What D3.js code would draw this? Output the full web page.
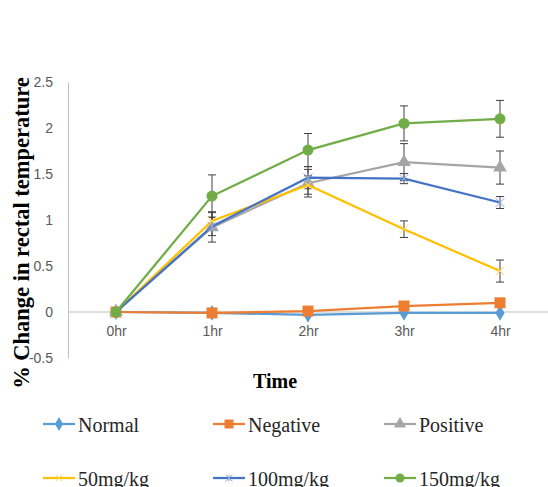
<!DOCTYPE html>
<html lang="en">
<head>
<meta charset="utf-8">
<title>% Change in rectal temperature</title>
<script src="https://d3js.org/d3.v7.min.js"></script>
<style>
  body { margin: 0; background: #fff; }
</style>
</head>
<body>
<script>
// data
const times = ["0hr", "1hr", "2hr", "3hr", "4hr"];
const seriesNames = ["Normal", "Negative", "Positive", "50mg/kg", "100mg/kg", "150mg/kg"];
const normal = [0, -0.01, -0.03, -0.01, -0.01];
const negative = [0, -0.01, 0.01, 0.065, 0.1];
const positive = [0, 0.92, 1.4, 1.63, 1.57];
const dose50 = [0, 0.99, 1.38, 0.9, 0.445];
const dose100 = [0, 0.93, 1.46, 1.45, 1.19];
const dose150 = [0, 1.26, 1.76, 2.05, 2.1];
const errPositive = [0, 0.16, 0.15, 0.2, 0.18];
const errDose50 = [0, 0.1, 0.1, 0.09, 0.12];
const errDose100 = [0, 0.1, 0.12, 0.055, 0.065];
const errDose150 = [0, 0.23, 0.18, 0.19, 0.2];
const yTicks = [-0.5, 0, 0.5, 1, 1.5, 2, 2.5];

const width = 548, height = 487;
const colors = ["#5B9BD5", "#ED7D31", "#A5A5A5", "#FFC000", "#4472C4", "#70AD47"];
const symbols = ["diamond", "square", "triangle", "x", "star", "circle"];
const values = [normal, negative, positive, dose50, dose100, dose150];
const errors = [null, null, errPositive, errDose50, errDose100, errDose150];

const x = d3.scalePoint().domain(times).range([68, 548]).padding(0.5);
const y = d3.scaleLinear().domain([-0.5, 2.5]).range([358, 82]);

const svg = d3.select("body").append("svg")
  .attr("width", width).attr("height", height);

// y axis
const yAxis = svg.append("g")
  .attr("transform", "translate(68,0)")
  .call(d3.axisLeft(y).tickValues(yTicks).tickSize(0).tickPadding(15).tickFormat(d => d));
yAxis.select(".domain").attr("stroke", "#BFBFBF");
yAxis.selectAll("text").attr("font-family", "Liberation Sans, Arial").attr("font-size", 14).attr("fill", "#595959");

// x axis along 0
const xAxis = svg.append("g")
  .attr("transform", "translate(0," + y(0) + ")")
  .call(d3.axisBottom(x).tickSize(0).tickPadding(14));
xAxis.select(".domain").attr("stroke", "#BFBFBF").attr("d", "M68,0H548");
xAxis.selectAll("text").attr("font-family", "Liberation Sans, Arial").attr("font-size", 14).attr("fill", "#595959");

// error bars
errors.forEach((err, i) => {
  if (!err) return;
  const g = svg.append("g");
  times.forEach((t, j) => {
    if (!err[j]) return;
    const cx = x(t), y1 = y(values[i][j] + err[j]), y2 = y(values[i][j] - err[j]);
    g.append("line").attr("x1", cx).attr("x2", cx).attr("y1", y1).attr("y2", y2)
      .attr("stroke", "#404040").attr("stroke-width", 1);
    [y1, y2].forEach(yy => g.append("line").attr("x1", cx - 4).attr("x2", cx + 4)
      .attr("y1", yy).attr("y2", yy).attr("stroke", "#404040").attr("stroke-width", 1));
  });
});

function marker(g, type, color, cx, cy, s) {
  if (type === "diamond") {
    g.append("path").attr("d", d3.symbol(d3.symbolDiamond, s * 8)()).attr("transform", `translate(${cx},${cy})`).attr("fill", color);
  } else if (type === "square") {
    g.append("rect").attr("x", cx - s / 2 - 1).attr("y", cy - s / 2 - 1).attr("width", s + 2).attr("height", s + 2).attr("fill", color);
  } else if (type === "triangle") {
    g.append("path").attr("d", d3.symbol(d3.symbolTriangle, s * 9)()).attr("transform", `translate(${cx},${cy})`).attr("fill", color);
  } else if (type === "circle") {
    g.append("circle").attr("cx", cx).attr("cy", cy).attr("r", s / 2 + 1).attr("fill", color);
  } else if (type === "x") {
    const r = s / 2;
    g.append("path").attr("d", `M${cx - r},${cy - r}L${cx + r},${cy + r}M${cx - r},${cy + r}L${cx + r},${cy - r}`)
      .attr("stroke", color).attr("stroke-width", 1);
  } else if (type === "star") {
    const r = s / 2;
    g.append("path").attr("d", `M${cx - r},${cy - r}L${cx + r},${cy + r}M${cx - r},${cy + r}L${cx + r},${cy - r}M${cx},${cy - r}L${cx},${cy + r}`)
      .attr("stroke", "#8FAADC").attr("stroke-width", 1);
  }
}

// lines
const line = d3.line().x((d, j) => x(times[j])).y(d => y(d));
values.forEach((vals, i) => {
  const g = svg.append("g");
  g.append("path").datum(vals).attr("d", line)
    .attr("fill", "none").attr("stroke", colors[i]).attr("stroke-width", 2.25);
  vals.forEach((v, j) => marker(g, symbols[i], i === 3 ? "#FFD966" : colors[i], x(times[j]), y(v), 9));
});

// axis titles
svg.append("text")
  .attr("transform", "translate(29,233) rotate(-90)")
  .attr("text-anchor", "middle")
  .attr("font-family", "Liberation Serif, Times New Roman").attr("font-weight", "bold").attr("font-size", 22.5)
  .text("% Change in rectal temperature");

svg.append("text")
  .attr("x", 275).attr("y", 388)
  .attr("text-anchor", "middle")
  .attr("font-family", "Liberation Serif, Times New Roman").attr("font-weight", "bold").attr("font-size", 20)
  .text("Time");

// legend
const legendCols = [43, 213, 384];
const legendRows = [424, 478];
seriesNames.forEach((name, i) => {
  const lx = legendCols[i % 3], ly = legendRows[Math.floor(i / 3)];
  const g = svg.append("g");
  g.append("line").attr("x1", lx).attr("x2", lx + 32).attr("y1", ly).attr("y2", ly)
    .attr("stroke", colors[i]).attr("stroke-width", 2.25);
  marker(g, symbols[i], i === 3 ? "#FFD966" : colors[i], lx + 16, ly, 7);
  g.append("text").attr("x", lx + 35).attr("y", ly + 8)
    .attr("font-family", "Liberation Serif, Times New Roman").attr("font-size", 20).attr("fill", "#262626")
    .text(name);
});
</script>
</body>
</html>
